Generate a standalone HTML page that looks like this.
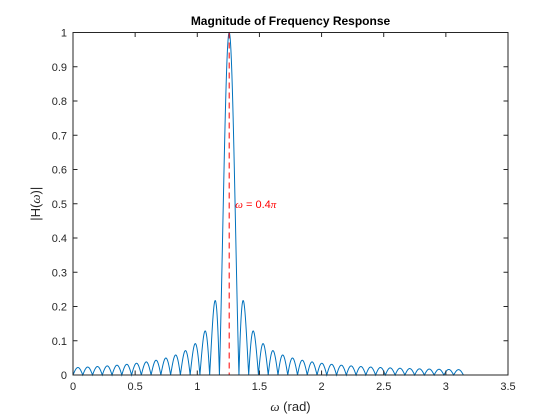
<!DOCTYPE html>
<html><head><meta charset="utf-8">
<style>
html,body{margin:0;padding:0;background:#fff;}
svg{display:block;font-family:"Liberation Sans",sans-serif;}
</style></head>
<body>
<svg id="chart" width="560" height="420" viewBox="0 0 560 420">
<rect x="0" y="0" width="560" height="420" fill="#fff"/>
<g id="plot"></g>
</svg>
<script>
// ---- data ----
const windowLength = [80];
const centerFreq = [0.4 * Math.PI];
const numSamples = [2000];
const freqRange = [0, Math.PI];
const xTicks = [0, 0.5, 1, 1.5, 2, 2.5, 3, 3.5];
const xTickLabels = ["0", "0.5", "1", "1.5", "2", "2.5", "3", "3.5"];
const yTicks = [0, 0.1, 0.2, 0.3, 0.4, 0.5, 0.6, 0.7, 0.8, 0.9, 1];
const yTickLabels = ["0", "0.1", "0.2", "0.3", "0.4", "0.5", "0.6", "0.7", "0.8", "0.9", "1"];

// ---- layout ----
const L = 73, R = 508, T = 32.5, B = 375;
const xMin = 0, xMax = 3.5, yMin = 0, yMax = 1;
const sx = v => L + (v - xMin) / (xMax - xMin) * (R - L);
const sy = v => B - (v - yMin) / (yMax - yMin) * (B - T);
const NS = "http://www.w3.org/2000/svg";
const g = document.getElementById('plot');
function mk(tag, attrs, parent) {
  const e = document.createElementNS(NS, tag);
  for (const k in attrs) e.setAttribute(k, attrs[k]);
  (parent || g).appendChild(e);
  return e;
}

const box = mk('rect', {x: L, y: T, width: R - L, height: B - T, fill: '#fff', stroke: 'none'});



const N = windowLength[0], w0 = centerFreq[0], M = numSamples[0];
let d = '';
for (let i = 0; i <= M; i++) {
  const w = freqRange[0] + (freqRange[1] - freqRange[0]) * i / M;
  const x = w - w0;
  const s = Math.sin(x / 2);
  const h = Math.abs(s) < 1e-9 ? 1 : Math.abs(Math.sin(N * x / 2) / (N * s));
  d += (i ? 'L' : 'M') + sx(w).toFixed(2) + ',' + sy(h).toFixed(2);
}
const curve = mk('path', {d: d, fill: 'none', stroke: '#0072BD', 'stroke-width': 1});



const mline = mk('line', {x1: sx(w0), x2: sx(w0), y1: T, y2: B, stroke: '#FF0000', 'stroke-width': 1, 'stroke-dasharray': '6,4'});


const ann = mk('text', {x: sx(w0) + 6, y: 208, fill: '#FF0000', 'font-size': 11});


ann.innerHTML = '<tspan font-family="Liberation Serif,serif" font-style="italic">ω</tspan> = 0.4<tspan font-family="Liberation Serif,serif" font-style="italic">π</tspan>';

const frame = mk('rect', {x: L, y: T, width: R - L, height: B - T, fill: 'none', stroke: '#262626', 'stroke-width': 1});



xTicks.forEach((v, i) => {
  const x = sx(v);
  const t1 = mk('line', {x1: x, x2: x, y1: B, y2: B - 4.5, stroke: '#262626'});
  
  
  const t2 = mk('line', {x1: x, x2: x, y1: T, y2: T + 4.5, stroke: '#262626'});
  
  
  const lb = mk('text', {x: x, y: B + 15, 'text-anchor': 'middle', 'font-size': 11, fill: '#262626'});
  
  
  lb.textContent = xTickLabels[i];
});
yTicks.forEach((v, i) => {
  const y = sy(v);
  const t1 = mk('line', {x1: L, x2: L + 4.5, y1: y, y2: y, stroke: '#262626'});
  
  
  const t2 = mk('line', {x1: R, x2: R - 4.5, y1: y, y2: y, stroke: '#262626'});
  
  
  const lb = mk('text', {x: L - 6, y: y + 4, 'text-anchor': 'end', 'font-size': 11, fill: '#262626'});
  
  
  lb.textContent = yTickLabels[i];
});

const title = mk('text', {x: (L + R) / 2, y: 25, 'text-anchor': 'middle', 'font-size': 12, 'font-weight': 'bold', fill: '#000'});


title.textContent = 'Magnitude of Frequency Response';

const xl = mk('text', {x: (L + R) / 2, y: 411, 'text-anchor': 'middle', 'font-size': 13, fill: '#262626'});


xl.innerHTML = '<tspan font-family="Liberation Serif,serif" font-style="italic">ω</tspan> (rad)';

const yl = mk('text', {x: 0, y: 0, 'text-anchor': 'middle', 'font-size': 13, fill: '#262626', transform: 'translate(40,' + ((T + B) / 2) + ') rotate(-90)'});


yl.innerHTML = '|H(<tspan font-family="Liberation Serif,serif" font-style="italic">ω</tspan>)|';
</script>
</body></html>
